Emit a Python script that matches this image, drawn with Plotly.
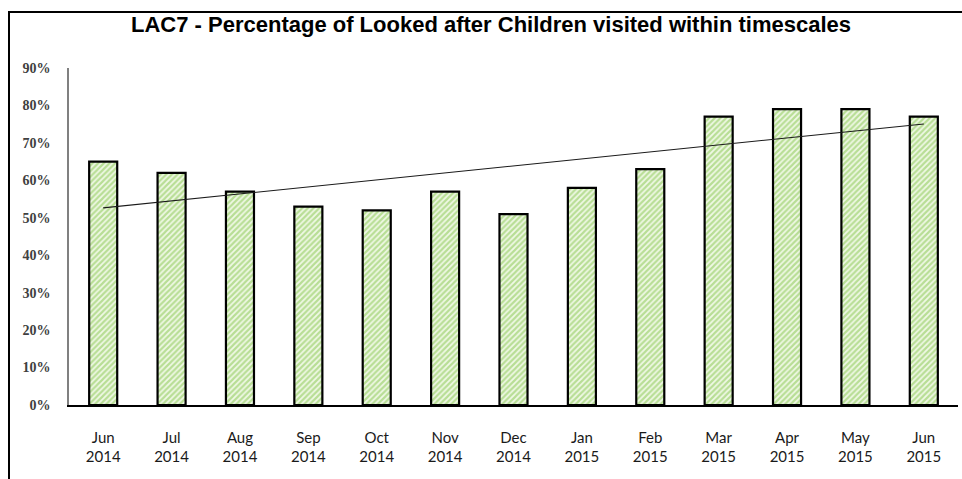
import numpy as np
import plotly.graph_objects as go

months = ["Jun<br>2014", "Jul<br>2014", "Aug<br>2014", "Sep<br>2014", "Oct<br>2014", "Nov<br>2014",
          "Dec<br>2014", "Jan<br>2015", "Feb<br>2015", "Mar<br>2015", "Apr<br>2015", "May<br>2015", "Jun<br>2015"]
values = [0.65, 0.62, 0.57, 0.53, 0.52, 0.57, 0.51, 0.58, 0.63, 0.77, 0.79, 0.79, 0.77]
y_ticks = [0, 0.1, 0.2, 0.3, 0.4, 0.5, 0.6, 0.7, 0.8, 0.9]
y_tick_labels = ["0%", "10%", "20%", "30%", "40%", "50%", "60%", "70%", "80%", "90%"]

idx = np.arange(len(values))
slope, intercept = np.polyfit(idx, values, 1)
trend = slope * idx + intercept

W, H = 962, 479
L, R, T, B = 69, 4, 68, 74

fig = go.Figure()
fig.add_trace(go.Bar(
    x=months, y=values, width=0.41,
    marker=dict(color="#ffffff", line=dict(color="#000000", width=2.2),
                pattern=dict(shape="/", fgcolor="#80c444", bgcolor="#f0f8e6", size=4, solidity=0.55)),
    hoverinfo="skip",
))
fig.add_trace(go.Scatter(x=months, y=trend, mode="lines",
                         line=dict(color="#1a1a1a", width=1.1), hoverinfo="skip"))

pw = W - L - R
ph = H - T - B
fig.add_shape(type="rect", xref="paper", yref="paper",
              x0=(9 - L) / pw, x1=(W + 20 - L) / pw,
              y0=-(H + 20 - (H - B)) / ph, y1=(H - B - 12) / ph,
              line=dict(color="#000000", width=2), fillcolor="rgba(0,0,0,0)", layer="above")

fig.add_annotation(text="<b>LAC7 - Percentage of Looked after Children visited within timescales</b>",
                   xref="paper", yref="paper", x=(491 - L) / pw, y=(H - B - 25) / ph,
                   showarrow=False, xanchor="center", yanchor="middle",
                   font=dict(family="Liberation Sans, Arial", size=22, color="#000000"))

fig.update_layout(
    width=W, height=H, margin=dict(l=L, r=R, t=T, b=B, autoexpand=False),
    paper_bgcolor="#ffffff", plot_bgcolor="#ffffff", showlegend=False,
)
fig.update_xaxes(showgrid=False, showline=True, linecolor="#000000", linewidth=1.5,
                 ticks="", tickfont=dict(family="Lato", size=15, color="#1a1a1a"),
                 ticklabelstandoff=18, range=[-0.5, 12.5])
fig.update_yaxes(range=[0, 0.9], tickvals=y_ticks, ticktext=["<b>%s</b>" % t for t in y_tick_labels],
                 showgrid=False, showline=True, linecolor="#808080", linewidth=1.5,
                 ticks="", tickfont=dict(family="Liberation Serif", size=14, color="#404040"),
                 ticklabelstandoff=14, zeroline=False)

fig.write_html("out.html", config={"displayModeBar": False},
               post_script="document.body.style.margin='0px';document.body.style.overflow='hidden';")
